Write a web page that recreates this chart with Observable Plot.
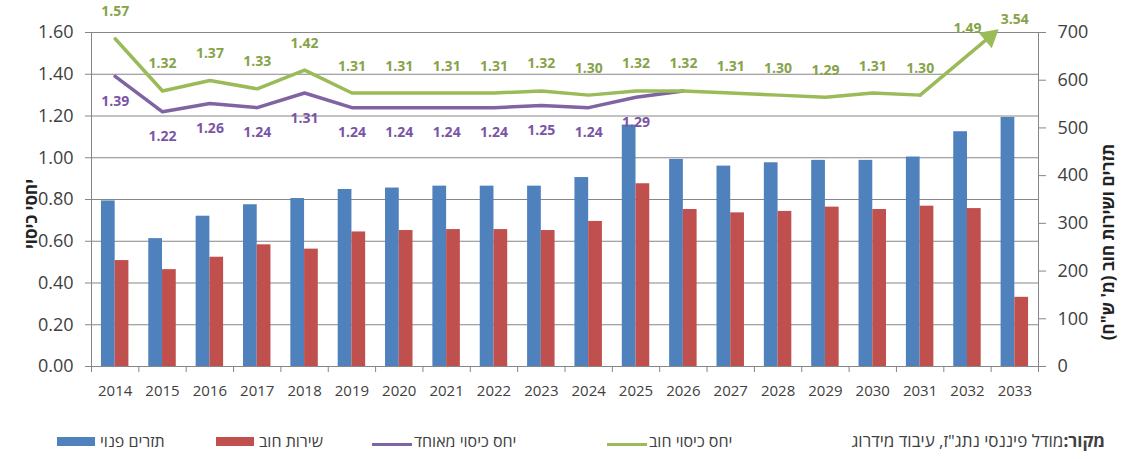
<!DOCTYPE html>
<html lang="he">
<head>
<meta charset="utf-8">
<script src="https://cdn.jsdelivr.net/npm/d3@7"></script>
<script src="https://cdn.jsdelivr.net/npm/@observablehq/plot@0.6"></script>
<style>
  html, body { margin: 0; padding: 0; background: #ffffff; }
  body { font-family: "Open Sans", "Liberation Sans", "DejaVu Sans", sans-serif; }
  #wrap { position: relative; width: 1121px; height: 459px; overflow: hidden; }
  #chart svg { display: block; }
  .lg { position: absolute; font-size: 16px; color: #404040; line-height: 1; white-space: nowrap; direction: rtl; }
  .sw { position: absolute; }
  .ttl { position: absolute; font-size: 17px; font-weight: bold; color: #222; white-space: nowrap; direction: rtl;
         line-height: 1; transform: translate(-50%, -50%) rotate(-90deg); }
</style>
</head>
<body>
<div id="wrap">
  <div id="chart"></div>
  <div class="ttl" id="leftTitle" style="left:30px;top:214px"></div>
  <div class="ttl" id="rightTitle" style="left:1107px;top:242px"></div>
  <div class="sw" style="left:57px;top:437px;width:38px;height:9px;background:#4f81bd"></div>
  <div class="lg" style="left:100px;top:433px">תזרים פנוי</div>
  <div class="sw" style="left:216px;top:437px;width:38px;height:9px;background:#c0504d"></div>
  <div class="lg" style="left:259px;top:433px">שירות חוב</div>
  <div class="sw" style="left:372px;top:443px;width:40px;height:3px;background:#8064a2"></div>
  <div class="lg" style="left:414px;top:433px">יחס כיסוי מאוחד</div>
  <div class="sw" style="left:607px;top:443px;width:40px;height:3px;background:#9bbb59"></div>
  <div class="lg" style="left:649px;top:433px">יחס כיסוי חוב</div>
  <div class="lg" style="right:16px;top:432px;font-size:17px"><b>מקור:</b>מודל פיננסי נתג"ז, עיבוד מידרוג</div>
</div>
<script>
// ---- data ----
const years = [2014, 2015, 2016, 2017, 2018, 2019, 2020, 2021, 2022, 2023,
               2024, 2025, 2026, 2027, 2028, 2029, 2030, 2031, 2032, 2033];
// תזרים פנוי (מ' ש"ח) – right axis
const freeCashFlow = [347, 268, 315, 339, 352, 371, 374, 378, 378, 378,
                      396, 506, 434, 420, 427, 432, 432, 439, 492, 522];
// שירות חוב (מ' ש"ח) – right axis
const debtService = [222, 203, 229, 255, 246, 282, 285, 287, 287, 285,
                     304, 383, 329, 322, 325, 334, 329, 336, 331, 145];
// יחס כיסוי חוב – left axis
const debtCoverage = [1.57, 1.32, 1.37, 1.33, 1.42, 1.31, 1.31, 1.31, 1.31, 1.32,
                      1.30, 1.32, 1.32, 1.31, 1.30, 1.29, 1.31, 1.30, 1.49, 3.54];
// יחס כיסוי מאוחד – left axis (merges with the debt coverage line in 2026)
const consolidatedCoverage = [1.39, 1.22, 1.26, 1.24, 1.31, 1.24, 1.24, 1.24, 1.24, 1.25,
                              1.24, 1.29, 1.32, null, null, null, null, null, null, null];
const consolidatedLabelLastYear = 2025;
const leftTicks = [0, 0.2, 0.4, 0.6, 0.8, 1.0, 1.2, 1.4, 1.6];
const rightTicks = [0, 100, 200, 300, 400, 500, 600, 700];
const leftTitle = "יחסי כיסוי";
const rightTitle = "תזרים ושירות חוב (מ' ש\"ח)";

document.getElementById("leftTitle").textContent = leftTitle;
document.getElementById("rightTitle").textContent = rightTitle;

// ---- build ----
const yMax = leftTicks[leftTicks.length - 1];
const rMax = rightTicks[rightTicks.length - 1];
const k = yMax / rMax;
const table = years.map((year, i) => ({
  year, flow: freeCashFlow[i], debt: debtService[i],
  cov: debtCoverage[i], cons: consolidatedCoverage[i]
}));
const boundaries = [years[0] - 0.5, ...years.map(y => y + 0.5)];
const fmt = d3.format(".2f");
const inRange = table.filter(d => d.cov <= yMax);
const outRange = table.filter(d => d.cov > yMax);
const greenLine = table.filter(d => d.year <= 2031);
const pA = table.find(d => d.year === 2031), pB = table.find(d => d.year === 2032);
const along = t => ({ x: pA.year + t * (pB.year - pA.year), y: pA.cov + t * (pB.cov - pA.cov) });
const shaftEnd = along(1.5), headCenter = along(1.47);

const font = "'Open Sans', 'Liberation Sans', 'DejaVu Sans', sans-serif";
const axisColor = "#868686";
const textColor = "#404040";
const green = "#9bbb59", purple = "#8064a2";

function build(headRotate) {
  return Plot.plot({
    width: 1121,
    height: 410,
    marginLeft: 91,
    marginRight: 83,
    marginTop: 32,
    marginBottom: 44,
    style: { fontFamily: font, background: "#ffffff", overflow: "visible" },
    x: { type: "linear", domain: [years[0] - 0.5, years[years.length - 1] + 0.5], axis: null },
    y: { domain: [0, yMax], axis: null },
    marks: [
      Plot.gridY({ ticks: leftTicks, stroke: axisColor, strokeOpacity: 1, strokeWidth: 1 }),
      Plot.rectY(table, { x1: d => d.year - 0.29, x2: d => d.year, y1: 0, y2: d => d.flow * k, fill: "#4f81bd" }),
      Plot.rectY(table, { x1: d => d.year, x2: d => d.year + 0.29, y1: 0, y2: d => d.debt * k, fill: "#c0504d" }),
      Plot.frame({ stroke: axisColor }),
      Plot.axisY({ ticks: leftTicks, tickFormat: fmt, fontSize: 18, tickSize: 6, tickPadding: 12,
                   stroke: axisColor, color: textColor, label: null }),
      Plot.axisY({ anchor: "right", ticks: rightTicks.map(v => v * k), tickFormat: d => Math.round(d / k),
                   fontSize: 18, tickSize: 7, tickPadding: 12, stroke: axisColor, color: textColor, label: null }),
      Plot.axisX({ ticks: years, tickFormat: d => String(d), tickSize: 0, tickPadding: 19, fontSize: 15,
                   color: textColor, label: null }),
      Plot.axisX({ ticks: boundaries, tickFormat: () => "", tickSize: 6, stroke: axisColor, label: null }),
      Plot.line(table.filter(d => d.cons != null), { x: "year", y: "cons", stroke: purple, strokeWidth: 3.5, strokeLinejoin: "round" }),
      Plot.line(greenLine, { x: "year", y: "cov", stroke: green, strokeWidth: 3.5, strokeLinejoin: "round" }),
      Plot.link([{ a: pA, b: shaftEnd }], { x1: d => d.a.year, y1: d => d.a.cov, x2: d => d.b.x, y2: d => d.b.y,
                 stroke: green, strokeWidth: 3.5, strokeLinecap: "round" }),
      Plot.dot([headCenter], { x: "x", y: "y", symbol: "triangle", r: 7.5, fill: green, stroke: "none",
                rotate: headRotate }),
      Plot.text(inRange, { x: "year", y: "cov", text: d => fmt(d.cov), dy: -27, fill: "#86a34a",
                           fontWeight: "bold", fontSize: 14 }),
      Plot.text(outRange, { x: "year", y: () => yMax, text: d => fmt(d.cov), dy: -13,
                            fill: "#86a34a", fontWeight: "bold", fontSize: 14 }),
      Plot.text(table.filter(d => d.cons != null && d.year <= consolidatedLabelLastYear),
                { x: "year", y: "cons", text: d => fmt(d.cons), dy: 25, fill: "#7a55a5",
                  fontWeight: "bold", fontSize: 14 })
    ]
  });
}

// first pass to read the scales, then orient the arrow head along the last segment
const probe = build(0);
const sx = probe.scale("x"), sy = probe.scale("y");
const px = sx.apply(pB.year) - sx.apply(pA.year);
const py = sy.apply(pB.cov) - sy.apply(pA.cov);
const angle = Math.atan2(px, -py) * 180 / Math.PI;
const chart = build(angle);
document.getElementById("chart").appendChild(chart);
</script>
</body>
</html>
